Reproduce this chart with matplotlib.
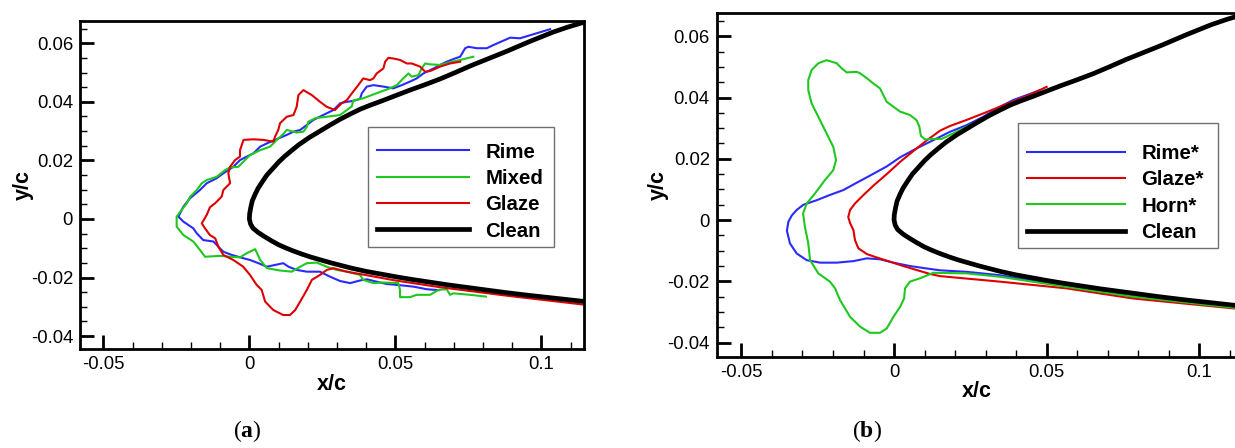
import numpy as np
import matplotlib
matplotlib.use('Agg')
import matplotlib.pyplot as plt
from matplotlib.ticker import MultipleLocator, FuncFormatter
from matplotlib.patches import Rectangle

# ---------------- data (x/c, y/c) ----------------
clean = [(0.1150, 0.0673), (0.1090, 0.0655), (0.1040, 0.0638), (0.0960, 0.0606),
         (0.0880, 0.0572), (0.0820, 0.0548), (0.0760, 0.0524), (0.0705, 0.0500),
         (0.0653, 0.0478), (0.0600, 0.0458), (0.0550, 0.0440), (0.0500, 0.0421),
         (0.0456, 0.0404), (0.0415, 0.0389), (0.0380, 0.0375), (0.0345, 0.0358),
         (0.0310, 0.0340), (0.0275, 0.0320), (0.0240, 0.0299), (0.0205, 0.0278),
         (0.0170, 0.0254), (0.0145, 0.0234), (0.0120, 0.0213), (0.0100, 0.0194),
         (0.0080, 0.0172), (0.0060, 0.0150), (0.0045, 0.0128), (0.0030, 0.0105),
         (0.0020, 0.0085), (0.0010, 0.0062), (0.0005, 0.0040), (0.0001, 0.0018),
         (0.0000, 0.0000), (0.0004, -0.0017), (0.0012, -0.0031), (0.0030, -0.0046),
         (0.0050, -0.0059), (0.0075, -0.0074), (0.0100, -0.0088), (0.0125, -0.0099),
         (0.0150, -0.0109), (0.0180, -0.0120), (0.0210, -0.0130), (0.0245, -0.0140),
         (0.0280, -0.0150), (0.0315, -0.0159), (0.0350, -0.0168), (0.0400, -0.0179),
         (0.0450, -0.0188), (0.0505, -0.0198), (0.0560, -0.0207), (0.0620, -0.0216),
         (0.0680, -0.0225), (0.0740, -0.0233), (0.0800, -0.0241), (0.0875, -0.0251),
         (0.0950, -0.0260), (0.1050, -0.0271), (0.1150, -0.0282)]

rime_a = [(0.1030, 0.0648), (0.0927, 0.0617), (0.0893, 0.0619), (0.0836, 0.0594),
          (0.0813, 0.0583), (0.0779, 0.0583), (0.0750, 0.0588), (0.0739, 0.0583),
          (0.0722, 0.0554), (0.0704, 0.0548), (0.0676, 0.0537), (0.0653, 0.0526),
          (0.0631, 0.0514), (0.0596, 0.0497), (0.0573, 0.0480), (0.0550, 0.0469),
          (0.0522, 0.0457), (0.0493, 0.0446), (0.0459, 0.0452), (0.0425, 0.0457),
          (0.0402, 0.0452), (0.0385, 0.0429), (0.0379, 0.0410), (0.0356, 0.0403),
          (0.0333, 0.0400), (0.0311, 0.0395), (0.0288, 0.0372), (0.0253, 0.0355),
          (0.0219, 0.0338), (0.0197, 0.0321), (0.0174, 0.0304), (0.0151, 0.0298),
          (0.0128, 0.0287), (0.0088, 0.0270), (0.0060, 0.0258), (0.0037, 0.0247),
          (0.0014, 0.0224), (-0.0009, 0.0213), (-0.0032, 0.0201), (-0.0055, 0.0178),
          (-0.0089, 0.0156), (-0.0112, 0.0139), (-0.0146, 0.0122), (-0.0169, 0.0099),
          (-0.0203, 0.0071), (-0.0226, 0.0042), (-0.0243, 0.0008), (-0.0226, -0.0009),
          (-0.0192, -0.0032), (-0.0180, -0.0049), (-0.0158, -0.0072), (-0.0123, -0.0077),
          (-0.0106, -0.0095), (-0.0089, -0.0112), (-0.0060, -0.0123), (-0.0021, -0.0134),
          (0.0002, -0.0140), (0.0031, -0.0151), (0.0060, -0.0163), (0.0088, -0.0157),
          (0.0116, -0.0151), (0.0134, -0.0163), (0.0162, -0.0174), (0.0197, -0.0180),
          (0.0242, -0.0180), (0.0276, -0.0197), (0.0311, -0.0212), (0.0345, -0.0219),
          (0.0379, -0.0210), (0.0402, -0.0206), (0.0436, -0.0214), (0.0470, -0.0222),
          (0.0505, -0.0225), (0.0562, -0.0231), (0.0608, -0.0240), (0.0650, -0.0243)]

mixed_a = [(0.0767, 0.0554), (0.0722, 0.0543), (0.0687, 0.0535), (0.0653, 0.0526),
           (0.0619, 0.0528), (0.0602, 0.0531), (0.0590, 0.0514), (0.0579, 0.0491),
           (0.0556, 0.0486), (0.0545, 0.0497), (0.0527, 0.0480), (0.0505, 0.0457),
           (0.0476, 0.0444), (0.0448, 0.0434), (0.0419, 0.0423), (0.0390, 0.0412),
           (0.0356, 0.0405), (0.0351, 0.0385), (0.0334, 0.0372), (0.0311, 0.0355),
           (0.0265, 0.0349), (0.0225, 0.0344), (0.0202, 0.0332), (0.0197, 0.0315),
           (0.0185, 0.0298), (0.0162, 0.0295), (0.0128, 0.0304), (0.0116, 0.0290),
           (0.0094, 0.0270), (0.0071, 0.0247), (0.0037, 0.0235), (0.0002, 0.0218),
           (-0.0020, 0.0196), (-0.0038, 0.0178), (-0.0066, 0.0176), (-0.0083, 0.0167),
           (-0.0112, 0.0144), (-0.0146, 0.0133), (-0.0163, 0.0122), (-0.0180, 0.0099),
           (-0.0203, 0.0076), (-0.0214, 0.0054), (-0.0232, 0.0031), (-0.0249, 0.0008),
           (-0.0249, -0.0026), (-0.0226, -0.0055), (-0.0192, -0.0077), (-0.0169, -0.0106),
           (-0.0152, -0.0129), (-0.0100, -0.0126), (-0.0066, -0.0129), (-0.0032, -0.0131),
           (-0.0009, -0.0117), (0.0020, -0.0103), (0.0037, -0.0140), (0.0060, -0.0168),
           (0.0105, -0.0176), (0.0145, -0.0180), (0.0174, -0.0163), (0.0197, -0.0151),
           (0.0231, -0.0149), (0.0265, -0.0163), (0.0299, -0.0174), (0.0334, -0.0180),
           (0.0379, -0.0191), (0.0390, -0.0208), (0.0425, -0.0219), (0.0459, -0.0217),
           (0.0510, -0.0219), (0.0516, -0.0242), (0.0516, -0.0267), (0.0550, -0.0267),
           (0.0573, -0.0259), (0.0619, -0.0259), (0.0648, -0.0242), (0.0676, -0.0240),
           (0.0687, -0.0259), (0.0699, -0.0254), (0.0756, -0.0259), (0.0810, -0.0265)]

glaze_a = [(0.0722, 0.0537), (0.0687, 0.0531), (0.0653, 0.0520), (0.0619, 0.0505),
           (0.0602, 0.0503), (0.0585, 0.0520), (0.0556, 0.0531), (0.0539, 0.0531),
           (0.0516, 0.0543), (0.0493, 0.0548), (0.0476, 0.0550), (0.0465, 0.0537),
           (0.0459, 0.0514), (0.0436, 0.0497), (0.0425, 0.0480), (0.0413, 0.0474),
           (0.0390, 0.0480), (0.0373, 0.0457), (0.0351, 0.0429), (0.0334, 0.0406),
           (0.0316, 0.0395), (0.0293, 0.0372), (0.0265, 0.0383), (0.0242, 0.0400),
           (0.0214, 0.0423), (0.0185, 0.0440), (0.0168, 0.0423), (0.0162, 0.0383),
           (0.0151, 0.0355), (0.0128, 0.0349), (0.0105, 0.0327), (0.0099, 0.0304),
           (0.0088, 0.0281), (0.0082, 0.0264), (0.0048, 0.0270), (0.0014, 0.0272),
           (-0.0020, 0.0270), (-0.0032, 0.0235), (-0.0032, 0.0213), (-0.0049, 0.0201),
           (-0.0066, 0.0178), (-0.0072, 0.0156), (-0.0066, 0.0122), (-0.0089, 0.0099),
           (-0.0095, 0.0076), (-0.0117, 0.0054), (-0.0135, 0.0040), (-0.0146, 0.0014),
           (-0.0163, -0.0015), (-0.0152, -0.0032), (-0.0135, -0.0055), (-0.0117, -0.0066),
           (-0.0106, -0.0095), (-0.0089, -0.0123), (-0.0055, -0.0140), (-0.0021, -0.0163),
           (0.0002, -0.0191), (0.0025, -0.0225), (0.0042, -0.0242), (0.0054, -0.0282),
           (0.0082, -0.0311), (0.0116, -0.0328), (0.0139, -0.0328), (0.0157, -0.0311),
           (0.0174, -0.0282), (0.0197, -0.0242), (0.0214, -0.0208), (0.0242, -0.0191),
           (0.0265, -0.0174), (0.0288, -0.0168), (0.0334, -0.0180), (0.0379, -0.0188),
           (0.0500, -0.0210), (0.0653, -0.0233), (0.0882, -0.0262), (0.1150, -0.0293)]

rime_b = [(0.0478, 0.0424), (0.0435, 0.0408), (0.0391, 0.0392), (0.0347, 0.0370),
          (0.0292, 0.0337), (0.0238, 0.0310), (0.0183, 0.0288), (0.0129, 0.0261),
          (0.0074, 0.0234), (0.0020, 0.0205), (-0.0024, 0.0175), (-0.0079, 0.0145),
          (-0.0122, 0.0122), (-0.0166, 0.0098), (-0.0210, 0.0082), (-0.0253, 0.0065),
          (-0.0297, 0.0050), (-0.0319, 0.0033), (-0.0335, 0.0015), (-0.0346, -0.0005),
          (-0.0351, -0.0035), (-0.0341, -0.0076), (-0.0319, -0.0109), (-0.0286, -0.0131),
          (-0.0242, -0.0139), (-0.0188, -0.0139), (-0.0133, -0.0134), (-0.0089, -0.0125),
          (-0.0046, -0.0128), (-0.0002, -0.0139), (0.0052, -0.0150), (0.0107, -0.0158),
          (0.0151, -0.0164), (0.0238, -0.0169), (0.0347, -0.0180), (0.0566, -0.0216),
          (0.0784, -0.0249), (0.1130, -0.0287)]

glaze_b = [(0.0500, 0.0435), (0.0456, 0.0414), (0.0402, 0.0392), (0.0347, 0.0370),
           (0.0292, 0.0348), (0.0238, 0.0327), (0.0183, 0.0307), (0.0151, 0.0292),
           (0.0107, 0.0260), (0.0063, 0.0225), (0.0020, 0.0190), (-0.0024, 0.0150),
           (-0.0068, 0.0112), (-0.0100, 0.0082), (-0.0128, 0.0054), (-0.0144, 0.0033),
           (-0.0150, 0.0010), (-0.0144, -0.0010), (-0.0133, -0.0033), (-0.0128, -0.0065),
           (-0.0117, -0.0092), (-0.0089, -0.0111), (-0.0057, -0.0122), (-0.0013, -0.0136),
           (0.0030, -0.0150), (0.0074, -0.0163), (0.0118, -0.0176), (0.0151, -0.0183),
           (0.0347, -0.0201), (0.0566, -0.0223), (0.0784, -0.0256), (0.1130, -0.0290)]

horn_b = [(0.0400, 0.0385), (0.0347, 0.0360), (0.0292, 0.0332), (0.0238, 0.0305),
          (0.0194, 0.0283), (0.0156, 0.0265), (0.0129, 0.0265), (0.0102, 0.0263),
          (0.0088, 0.0275), (0.0083, 0.0305), (0.0074, 0.0326), (0.0052, 0.0343),
          (0.0020, 0.0354), (-0.0024, 0.0386), (-0.0046, 0.0430), (-0.0068, 0.0446),
          (-0.0089, 0.0463), (-0.0111, 0.0479), (-0.0122, 0.0484), (-0.0155, 0.0482),
          (-0.0171, 0.0495), (-0.0188, 0.0512), (-0.0221, 0.0522), (-0.0248, 0.0512),
          (-0.0270, 0.0490), (-0.0281, 0.0457), (-0.0281, 0.0424), (-0.0270, 0.0381),
          (-0.0248, 0.0337), (-0.0221, 0.0283), (-0.0199, 0.0239), (-0.0190, 0.0196),
          (-0.0199, 0.0163), (-0.0226, 0.0131), (-0.0259, 0.0087), (-0.0286, 0.0054),
          (-0.0298, 0.0022), (-0.0292, -0.0022), (-0.0281, -0.0076), (-0.0275, -0.0131),
          (-0.0248, -0.0174), (-0.0210, -0.0201), (-0.0193, -0.0223), (-0.0177, -0.0261),
          (-0.0144, -0.0316), (-0.0111, -0.0348), (-0.0079, -0.0368), (-0.0046, -0.0368),
          (-0.0024, -0.0354), (-0.0002, -0.0316), (0.0020, -0.0283), (0.0033, -0.0256),
          (0.0036, -0.0223), (0.0052, -0.0201), (0.0085, -0.0190), (0.0129, -0.0172),
          (0.0238, -0.0174), (0.0347, -0.0185), (0.0566, -0.0218), (0.0784, -0.0250),
          (0.1130, -0.0288)]

labels_a = ['Rime', 'Mixed', 'Glaze', 'Clean']
labels_b = ['Rime*', 'Glaze*', 'Horn*', 'Clean']
captions = ['a', 'b']

BLUE = '#2a2aff'
GREEN = '#1ec81e'
RED = '#dc0000'
BLACK = '#000000'

# ---------------- style ----------------
plt.rcParams['font.family'] = ['Liberation Sans', 'DejaVu Sans']
plt.rcParams['mathtext.fontset'] = 'custom'
plt.rcParams['mathtext.bf'] = 'Liberation Serif:bold'
plt.rcParams['mathtext.rm'] = 'Liberation Serif'

fig = plt.figure(figsize=(12.35, 4.48), dpi=100)
W, H = 1235.0, 448.0
ax1 = fig.add_axes([80 / W, (H - 349) / H, 504 / W, 328.3 / H])
ax2 = fig.add_axes([716.7 / W, (H - 356.7) / H, 521.3 / W, 343.4 / H])


def fmt(v, pos):
    r = round(v, 4)
    if abs(r) < 1e-9:
        return '0'
    return f'{r:g}'


def style_axes(ax, xlim, ylim, ylpad):
    ax.set_xlim(*xlim)
    ax.set_ylim(*ylim)
    ax.xaxis.set_major_locator(MultipleLocator(0.05))
    ax.xaxis.set_minor_locator(MultipleLocator(0.01))
    ax.yaxis.set_major_locator(MultipleLocator(0.02))
    ax.yaxis.set_minor_locator(MultipleLocator(0.005))
    ax.xaxis.set_major_formatter(FuncFormatter(fmt))
    ax.yaxis.set_major_formatter(FuncFormatter(fmt))
    ax.tick_params(which='both', direction='in', top=False, right=False)
    ax.tick_params(which='major', length=10, width=2, labelsize=13.3, pad=5)
    ax.tick_params(which='minor', length=5, width=1)
    for s in ax.spines.values():
        s.set_linewidth(2)
    ax.set_xlabel('x/c', fontsize=15.5, fontweight='bold', labelpad=0.5)
    ax.set_ylabel('y/c', fontsize=15.5, fontweight='bold', labelpad=ylpad)


def draw(ax, pts, color, lw, label):
    a = np.array(pts)
    return ax.plot(a[:, 0], a[:, 1], color=color, lw=lw, label=label,
                   solid_joinstyle='round')[0]


h1 = [draw(ax1, rime_a, BLUE, 1.5, labels_a[0]),
      draw(ax1, mixed_a, GREEN, 1.5, labels_a[1]),
      draw(ax1, glaze_a, RED, 1.5, labels_a[2]),
      draw(ax1, clean, BLACK, 3.4, labels_a[3])]
h2 = [draw(ax2, rime_b, BLUE, 1.5, labels_b[0]),
      draw(ax2, glaze_b, RED, 1.5, labels_b[1]),
      draw(ax2, horn_b, GREEN, 1.5, labels_b[2]),
      draw(ax2, clean, BLACK, 3.4, labels_b[3])]

style_axes(ax1, (-0.058, 0.1146), (-0.0444, 0.0677), -2)
style_axes(ax2, (-0.0581, 0.1127), (-0.0446, 0.0675), -1)


def legend(ax, handles, box, hx, top, hl):
    # frame (pixel box: x0, y0, x1, y1 measured from top-left)
    x0, y0, x1, y1 = box
    rect = Rectangle((x0 / W, 1 - y1 / H), (x1 - x0) / W, (y1 - y0) / H,
                     transform=fig.transFigure, facecolor='white',
                     edgecolor='#707070', lw=1.0, zorder=4.9, clip_on=False)
    ax.add_artist(rect)
    leg = ax.legend(handles=handles, loc='upper left',
                    bbox_to_anchor=(hx / W, 1 - top / H),
                    bbox_transform=fig.transFigure,
                    borderaxespad=0, frameon=False,
                    prop={'weight': 'bold', 'size': 14.7},
                    handlelength=hl, handletextpad=0.82, labelspacing=0.36,
                    borderpad=0)
    leg.set_zorder(5)
    return leg


legend(ax1, h1, (368.3, 126.7, 554.3, 246.7), 376.7, 142.5, 4.5)
legend(ax2, h2, (1018.3, 123.3, 1218.3, 248.3), 1026.7, 143.8, 4.8)

fig.text(247 / W, 1 - 431 / H, '(' + r'$\mathbf{' + captions[0] + '}$' + ')',
         ha='center', va='center', fontsize=17, family='Liberation Serif')
fig.text(867 / W, 1 - 431 / H, '(' + r'$\mathbf{' + captions[1] + '}$' + ')',
         ha='center', va='center', fontsize=17, family='Liberation Serif')

fig.savefig('out.png', dpi=100)
